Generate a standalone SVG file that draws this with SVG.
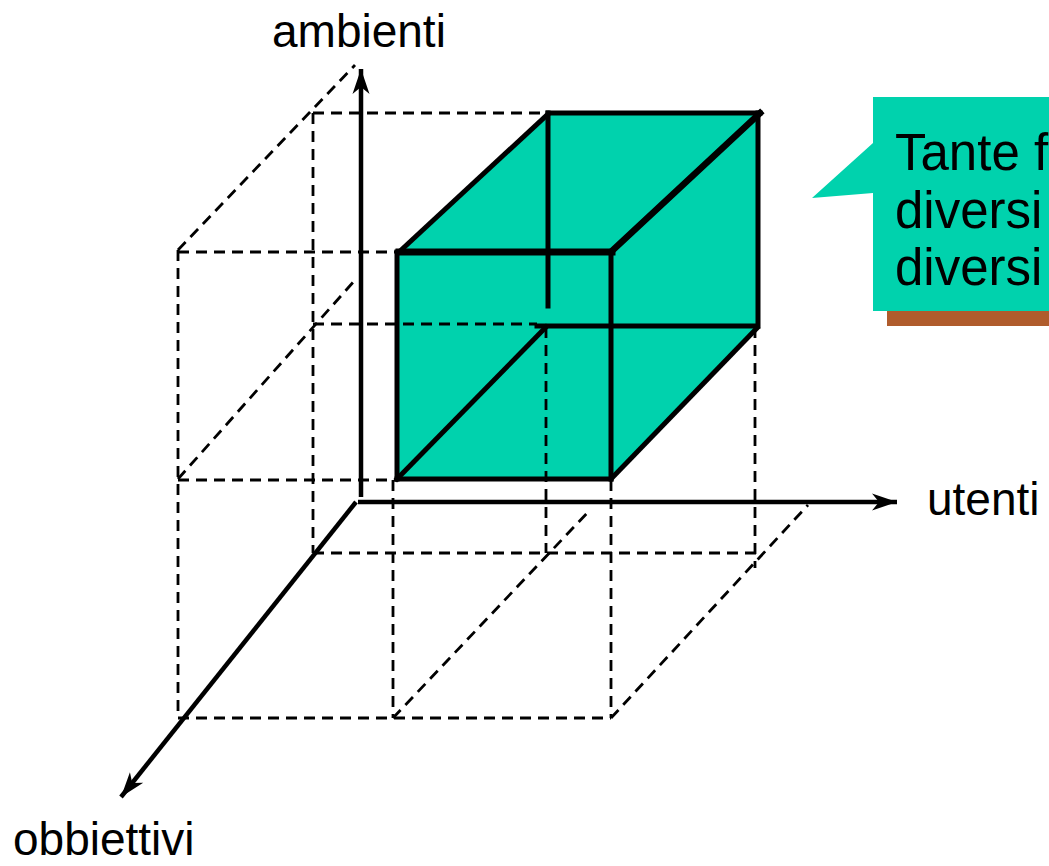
<svg xmlns="http://www.w3.org/2000/svg" width="1049" height="866" viewBox="0 0 1049 866">
<style>
.lbl{font-family:"Liberation Sans",Arial,sans-serif;fill:#000}
.dash{fill:none;stroke:#000;stroke-width:2.8;stroke-dasharray:11 7}
.edge{fill:none;stroke:#000;stroke-width:5;stroke-linecap:square}
.axis{fill:none;stroke:#000;stroke-width:4.5}
</style>
<defs>
<marker id="arr" markerUnits="userSpaceOnUse" markerWidth="30" markerHeight="20" viewBox="-26 -10 28 20" refX="0" refY="0" orient="auto">
<path d="M0,0 L-25,-8.5 L-18,0 L-25,8.5 Z" fill="#000"/>
</marker>
</defs>
<rect width="1049" height="866" fill="#fff"/>

<g id="callout">
<rect x="887" y="111" width="170" height="215" fill="#B05C2C"/>
<polygon points="873,97 1060,97 1060,311 873,311 873,193 812,198 873,143" fill="#00D2AD"/>
<text class="lbl" font-size="51" x="895" y="170">Tante f</text>
<text class="lbl" font-size="51" x="895" y="228">diversi</text>
<text class="lbl" font-size="51" x="895" y="285">diversi</text>
</g>

<g id="cube-fill">
<polygon points="397,252 548,113 760,113 758,327 611,479 397,479" fill="#00D2AD"/>
</g>

<g id="grid">
<line class="dash" x1="178" y1="250" x2="178" y2="718"/>
<line class="dash" x1="178" y1="252" x2="397" y2="252"/>
<line class="dash" x1="178" y1="480" x2="397" y2="480"/>
<line class="dash" x1="178" y1="718" x2="611" y2="718"/>
<line class="dash" x1="393" y1="480" x2="393" y2="718"/>
<line class="dash" x1="611" y1="480" x2="611" y2="718"/>
<line class="dash" x1="313" y1="113" x2="313" y2="553"/>
<line class="dash" x1="313" y1="113" x2="548" y2="113"/>
<line class="dash" x1="313" y1="324" x2="537" y2="324"/>
<line class="dash" x1="313" y1="553" x2="757" y2="553"/>
<line class="dash" x1="546" y1="327" x2="546" y2="553"/>
<line class="dash" x1="755" y1="327" x2="755" y2="568"/>
<line class="dash" x1="178" y1="250" x2="355" y2="65"/>
<line class="dash" x1="178" y1="479" x2="356" y2="279"/>
<line class="dash" x1="393" y1="718" x2="590" y2="510"/>
<line class="dash" x1="611" y1="718" x2="808" y2="505"/>
</g>

<g id="cube">
<line class="edge" x1="548" y1="113" x2="548" y2="306"/>
<line class="edge" x1="537" y1="326" x2="756" y2="326"/>
<line class="edge" x1="397" y1="479" x2="546" y2="327"/>
<line class="edge" x1="397" y1="252" x2="397" y2="479"/>
<line class="edge" x1="397" y1="479" x2="611" y2="479"/>
<line class="edge" x1="611" y1="252" x2="611" y2="479"/>
<line class="edge" x1="758" y1="113" x2="758" y2="326"/>
<line class="edge" x1="611" y1="479" x2="757" y2="328"/>
<line class="edge" x1="399" y1="252" x2="548" y2="114"/>
<line class="edge" x1="548" y1="113" x2="760" y2="113"/>
<line class="edge" style="stroke-width:6.5" x1="760" y1="113" x2="612" y2="251"/>
<line class="edge" style="stroke-width:7" x1="399" y1="252" x2="612" y2="252"/>
</g>

<g id="axes">
<line class="axis" x1="361" y1="497" x2="361" y2="69" marker-end="url(#arr)"/>
<line class="axis" x1="358" y1="502" x2="897" y2="502" marker-end="url(#arr)"/>
<line class="axis" x1="356" y1="502" x2="121" y2="797" marker-end="url(#arr)"/>
</g>

<g id="labels">
<text class="lbl" font-size="46" x="272" y="47">ambienti</text>
<text class="lbl" font-size="46" x="927" y="515">utenti</text>
<text class="lbl" font-size="46" x="13" y="855">obbiettivi</text>
</g>
</svg>
